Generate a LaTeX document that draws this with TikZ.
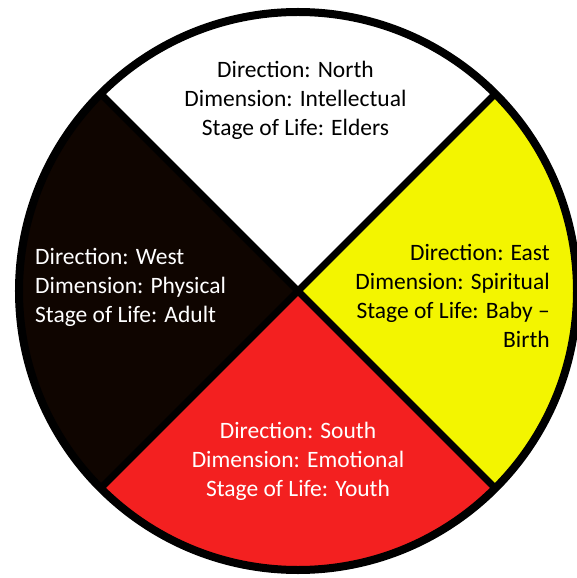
\documentclass[tikz,border=0pt]{standalone}
\usepackage{fontspec}
\setmainfont{Carlito}
\usetikzlibrary{positioning}
\usepackage{xcolor}
\definecolor{preto}{RGB}{15, 5, 0}
\definecolor{amarelo}{RGB}{243, 245, 0}
\definecolor{vermelho}{RGB}{243, 32, 32}
\tikzset{
  texto/.style={font=\fontsize{23.5}{29}\selectfont, inner sep=0pt},
  divisao/.style={draw=black, line width=7pt},
  borda/.style={draw=black, line width=8pt},
}

\begin{document}
\begin{tikzpicture}[
    x=1pt, y=1pt
]
\useasboundingbox (-298,-287) rectangle (278,291);

\coordinate (centro) at (0,0);

% quadrantes
\fill[white] (centro) -- (45:279) arc[start angle=45, end angle=135, radius=279] -- cycle;
\fill[preto] (centro) -- (135:279) arc[start angle=135, end angle=225, radius=279] -- cycle;
\fill[vermelho] (centro) -- (225:279) arc[start angle=225, end angle=315, radius=279] -- cycle;
\fill[amarelo] (centro) -- (-45:279) arc[start angle=-45, end angle=45, radius=279] -- cycle;

\draw[divisao] (135:279) -- (centro) -- (-45:279);
\draw[divisao] (45:279) -- (centro) -- (225:279);
\draw[borda] (centro) circle[radius=279];

\node[texto, align=center, text=black] (norte) at (-2.5,191)
{Direction: North\\
Dimension: Intellectual\\
Stage of Life: Elders};

\node[texto, align=left, text=white, anchor=west] (oeste) at (-263,4)
{Direction: West\\
Dimension: Physical\\
Stage of Life: Adult};

\node[texto, align=right, text=black, anchor=east] (leste) at (252,-4.5)
{Direction: East\\
Dimension: Spiritual\\
Stage of Life: Baby --\\
Birth};

\node[texto, align=center, text=white] (sul) at (0,-170)
{Direction: South\\
Dimension: Emotional\\
Stage of Life: Youth};

\end{tikzpicture}
\end{document}
